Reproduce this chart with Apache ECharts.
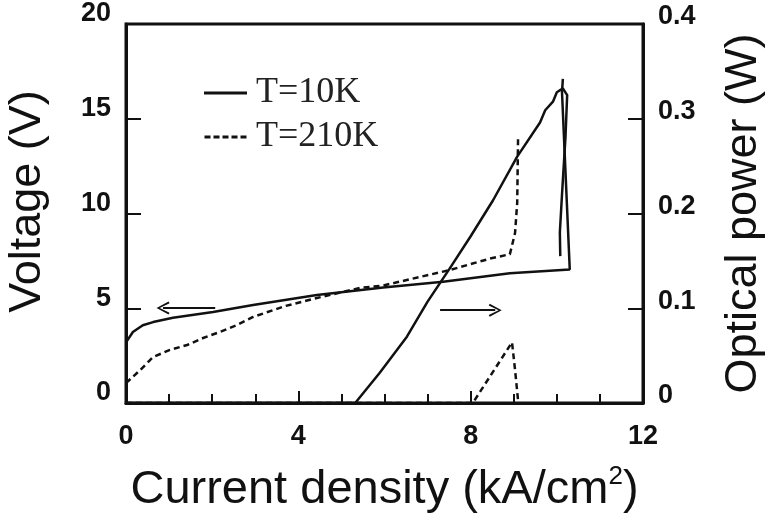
<!DOCTYPE html>
<html>
<head>
<meta charset="utf-8">
<script src="https://cdn.jsdelivr.net/npm/echarts@6/dist/echarts.min.js"></script>
<style>
html,body{margin:0;padding:0;background:#fff;}
#chart{width:765px;height:524px;}
</style>
</head>
<body>
<div id="chart"></div>
<script>
// ---- data ----
const xTickLabels = ['0', '4', '8', '12'];
const leftTickLabels = ['0', '5', '10', '15', '20'];
const rightTickLabels = ['0', '0.1', '0.2', '0.3', '0.4'];
const legendNames = ['T=10K', 'T=210K'];

// voltage (V) vs current density (kA/cm2)
const voltage10K = [
  [0, 3.2], [0.16, 3.75], [0.39, 4.1], [0.63, 4.27], [1.09, 4.5], [2.02, 4.8],
  [2.95, 5.17], [4.43, 5.7], [5.97, 6.1], [7.36, 6.4], [8.91, 6.85],
  [10.3, 7.05], [10.12, 16.4], [10.14, 17.1]
];
const voltage210K = [
  [0, 1.05], [0.33, 1.74], [0.63, 2.43], [1.02, 2.8], [1.42, 3.06], [1.79, 3.43],
  [2.18, 3.75], [2.58, 4.12], [2.95, 4.54], [3.7, 5.12], [4.43, 5.54], [5.43, 6.07],
  [5.97, 6.2], [7.52, 7.02], [8.45, 7.62], [8.91, 7.85], [9.03, 8.97],
  [9.08, 10.55], [9.1, 14.0]
];
// optical power (W) vs current density (kA/cm2)
const power10K = [
  [0, 0], [5.32, 0], [5.89, 0.032], [6.52, 0.07], [7.0, 0.107], [7.5, 0.141],
  [8.0, 0.176], [8.52, 0.214], [9.08, 0.26], [9.61, 0.296], [9.73, 0.309],
  [9.91, 0.318], [10.0, 0.328], [10.14, 0.332], [10.24, 0.325], [10.2, 0.28],
  [10.12, 0.22], [10.07, 0.18], [10.08, 0.155]
];
const power210K = [
  [0, 0], [8.05, 0], [8.96, 0.064], [9.03, 0.035], [9.1, 0.003]
];
// annotation arrows (data coordinates)
const voltageArrow = [[2.07, 5.01], [0.86, 5.01]];
const powerArrow = [[7.29, 0.098], [8.57, 0.098]];

// ---- chart ----
const ink = '#111';
const chevron = 'path://M6,0 L12,12 L10.4,13 L6,3.2 L1.6,13 L0,12 Z';
const solidIcon = 'path://M0,0 H43 V3 H0 Z';
const dashIcon = 'path://M0,0 H6 V3 H0 Z M9,0 H15 V3 H9 Z M18,0 H24 V3 H18 Z M27,0 H33 V3 H27 Z M36,0 H42 V3 H36 Z';

const chart = echarts.init(document.getElementById('chart'), null, {renderer: 'canvas'});

function arrowMarkLine(pts) {
  return {
    silent: true,
    symbol: ['none', chevron],
    symbolSize: [13, 13],
    label: {show: false},
    lineStyle: {color: ink, width: 2, type: 'solid'},
    emphasis: {disabled: true},
    data: [[{coord: pts[0]}, {coord: pts[1]}]]
  };
}

const tickFont = {fontFamily: 'Liberation Sans', fontWeight: 'bold', fontSize: 27, color: ink};
const titleFont = {fontFamily: 'Liberation Sans', fontSize: 45, color: ink};

chart.setOption({
  animation: false,
  backgroundColor: '#fff',
  grid: {left: 126, right: 122, top: 24, bottom: 121, show: true, borderColor: ink, borderWidth: 3,
    containLabel: false, outerBoundsMode: 'none'},
  legend: {
    orient: 'vertical',
    left: 199,
    top: 64,
    itemWidth: 43,
    itemHeight: 3,
    itemGap: -4,
    data: [{name: legendNames[0], icon: solidIcon}, {name: legendNames[1], icon: dashIcon}],
    textStyle: {fontFamily: 'Liberation Serif', fontSize: 36, color: '#222', lineHeight: 38, padding: [10, 0, 0, 4]},
    selectedMode: false
  },
  xAxis: {
    type: 'value', min: 0, max: 12, interval: 4,
    axisLine: {show: true, onZero: false, lineStyle: {color: ink, width: 3}},
    axisTick: {show: true, inside: true, length: 12, lineStyle: {color: ink, width: 2}},
    minorTick: {show: true, splitNumber: 4, length: 9, lineStyle: {color: ink, width: 2}},
    splitLine: {show: false},
    axisLabel: Object.assign({margin: 20, formatter: (v, i) => xTickLabels[i]}, tickFont),
    name: '{n|Current density (kA/cm}{s|2}{n|)}',
    nameLocation: 'middle',
    nameGap: 61,
    nameTextStyle: {
      rich: {
        n: {fontFamily: 'Liberation Sans', fontSize: 47, color: ink, lineHeight: 52, verticalAlign: 'middle'},
        s: {fontFamily: 'Liberation Sans', fontSize: 26, color: ink, lineHeight: 32, verticalAlign: 'top'}
      }
    }
  },
  yAxis: [
    {
      type: 'value', min: 0, max: 20, interval: 5, position: 'left',
      axisLine: {show: true, onZero: false, lineStyle: {color: ink, width: 3}},
      axisTick: {show: true, inside: true, length: 15, lineStyle: {color: ink, width: 2}},
      splitLine: {show: false},
      axisLabel: Object.assign({margin: 15, verticalAlign: 'bottom', lineHeight: 20, showMinLabel: true, showMaxLabel: true,
        formatter: (v, i) => leftTickLabels[i]}, tickFont),
      name: 'Voltage (V)',
      nameLocation: 'middle',
      nameGap: 76,
      nameTextStyle: Object.assign({padding: [0, 0, 0, 24]}, titleFont)
    },
    {
      type: 'value', min: 0, max: 0.4, interval: 0.1, position: 'right',
      axisLine: {show: true, onZero: false, lineStyle: {color: ink, width: 3}},
      axisTick: {show: true, inside: true, length: 15, lineStyle: {color: ink, width: 2}},
      splitLine: {show: false},
      axisLabel: Object.assign({margin: 15, verticalAlign: 'bottom', lineHeight: 14, showMinLabel: true, showMaxLabel: true,
        formatter: (v, i) => rightTickLabels[i]}, tickFont),
      name: 'Optical power (W)',
      nameLocation: 'middle',
      nameRotate: 90,
      nameGap: 78,
      nameTextStyle: titleFont
    }
  ],
  series: [
    {
      name: legendNames[0], type: 'line', yAxisIndex: 0, data: voltage10K,
      symbol: 'none', lineStyle: {color: ink, width: 2.5, type: 'solid'}, itemStyle: {color: ink},
      markLine: arrowMarkLine(voltageArrow), z: 3
    },
    {
      name: legendNames[1], type: 'line', yAxisIndex: 0, data: voltage210K,
      symbol: 'none', lineStyle: {color: ink, width: 2.5, type: [6, 4]}, itemStyle: {color: ink}, z: 3
    },
    {
      name: legendNames[0], type: 'line', yAxisIndex: 1, data: power10K,
      symbol: 'none', lineStyle: {color: ink, width: 2.5, type: 'solid'}, itemStyle: {color: ink},
      markLine: arrowMarkLine(powerArrow), z: 3
    },
    {
      name: legendNames[1], type: 'line', yAxisIndex: 1, data: power210K,
      symbol: 'none', lineStyle: {color: ink, width: 2.5, type: [6, 4]}, itemStyle: {color: ink}, z: 3
    }
  ]
});
</script>
</body>
</html>
